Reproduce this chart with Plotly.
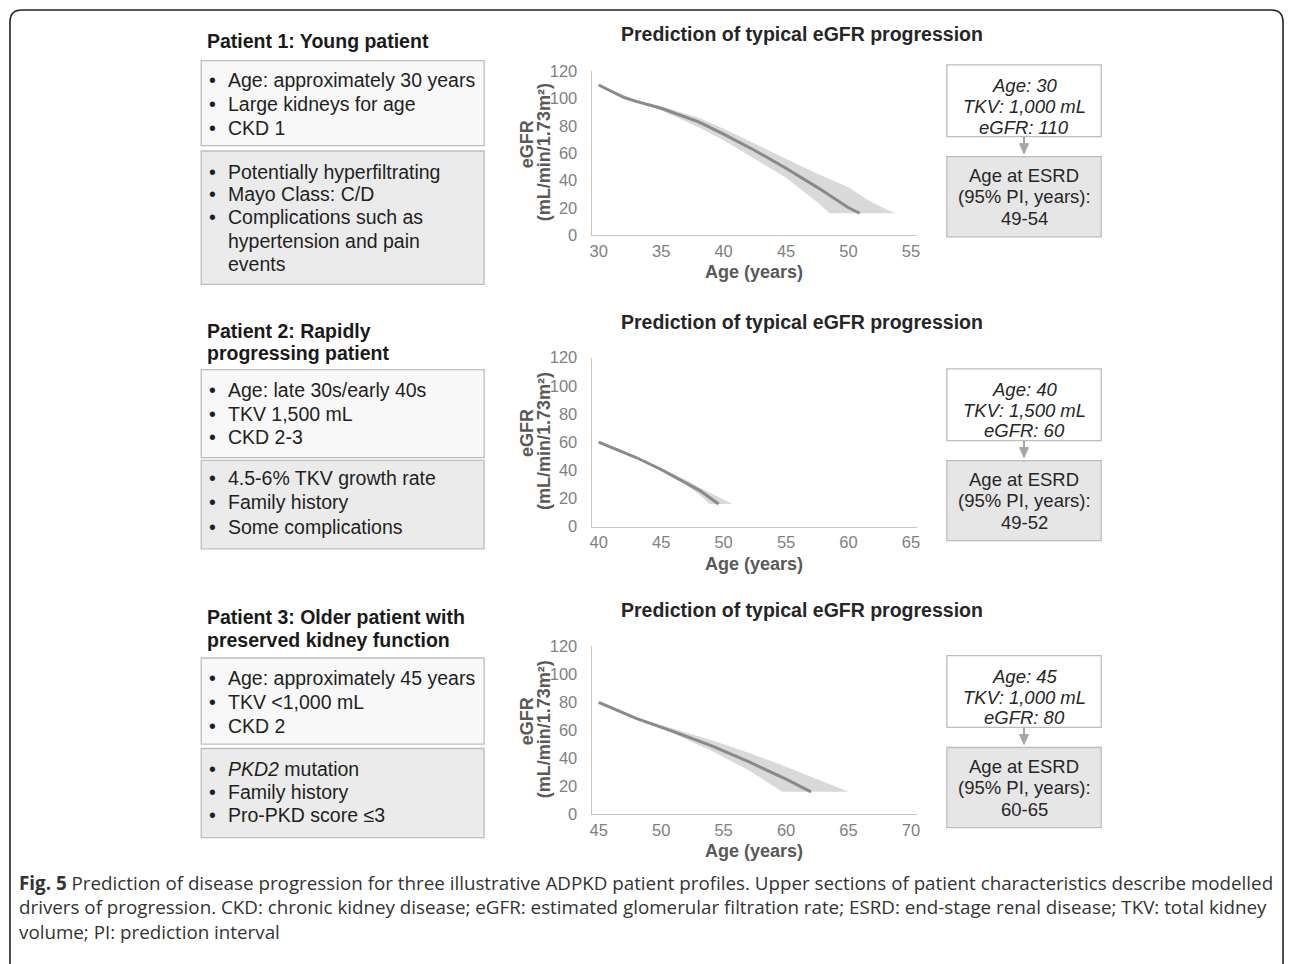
import plotly.graph_objects as go

W, H = 1292, 964

# ---------------- data ----------------
chart_title = "Prediction of typical eGFR progression"
y_ticks = [0, 20, 40, 60, 80, 100, 120]
x_ticks_1 = [30, 35, 40, 45, 50, 55]
x_ticks_2 = [40, 45, 50, 55, 60, 65]
x_ticks_3 = [45, 50, 55, 60, 65, 70]

# Patient 1
p1_age = [30, 32, 33, 35, 38, 40, 42.5, 45, 47.5, 50, 50.9]
p1_egfr = [110, 101, 98, 93, 83, 74, 62, 49, 35, 20, 16]
p1_upper_age = [30, 33, 35, 38, 40, 42.5, 45, 47.5, 50, 51.5, 53, 53.8]
p1_upper = [110, 99, 94.5, 86, 78, 67, 55.5, 45, 35, 26, 19, 16]
p1_lower_age = [30, 33, 35, 38, 40, 42.5, 45, 47.5, 48.5]
p1_lower = [110, 97.5, 91.5, 79, 69.5, 56, 42, 24, 16]

# Patient 2
p2_age = [40, 43, 45, 47, 48.1, 49.6]
p2_egfr = [60, 49, 40.5, 31, 25.5, 16]
p2_upper_age = [40, 43, 45, 47, 48, 49.5, 50.7]
p2_upper = [60, 49.5, 41.5, 33, 28, 21.5, 16]
p2_lower_age = [40, 43, 45, 47, 48, 48.9]
p2_lower = [60, 48.5, 39.5, 29.5, 23, 16]

# Patient 3
p3_age = [45, 48, 51, 54, 57, 60, 62]
p3_egfr = [80, 68.5, 59, 49, 37.5, 25, 16]
p3_upper_age = [45, 48, 51, 54, 57, 60, 62.5, 65]
p3_upper = [80, 69, 61, 53, 44, 34, 25, 16]
p3_lower_age = [45, 48, 51, 54, 57, 59.7]
p3_lower = [80, 68, 57.5, 45.5, 31.5, 16]

patient_titles = [
    ["Patient 1: Young patient"],
    ["Patient 2: Rapidly", "progressing patient"],
    ["Patient 3: Older patient with", "preserved kidney function"],
]
patient_box1 = [
    [["Age: approximately 30 years"], ["Large kidneys for age"], ["CKD 1"]],
    [["Age: late 30s/early 40s"], ["TKV 1,500 mL"], ["CKD 2-3"]],
    [["Age: approximately 45 years"], ["TKV <1,000 mL"], ["CKD 2"]],
]
patient_box2 = [
    [["Potentially hyperfiltrating"], ["Mayo Class: C/D"],
     ["Complications such as", "hypertension and pain", "events"]],
    [["4.5-6% TKV growth rate"], ["Family history"], ["Some complications"]],
    [["<i>PKD2</i> mutation"], ["Family history"], ["Pro-PKD score \u22643"]],
]
input_lines = [
    ["Age: 30", "TKV: 1,000 mL", "eGFR: 110"],
    ["Age: 40", "TKV: 1,500 mL", "eGFR: 60"],
    ["Age: 45", "TKV: 1,000 mL", "eGFR: 80"],
]
esrd_label = ["Age at ESRD", "(95% PI, years):"]
esrd_range = ["49-54", "49-52", "60-65"]

caption_lines = [
    "<b>Fig. 5</b> Prediction of disease progression for three illustrative ADPKD patient profiles. "
    "Upper sections of patient characteristics describe modelled",
    "drivers of progression. CKD: chronic kidney disease; eGFR: estimated glomerular filtration rate; "
    "ESRD: end-stage renal disease; TKV: total kidney",
    "volume; PI: prediction interval",
]

# ---------------- helpers ----------------
# the photographed page is slightly squeezed vertically; positions below are
# screen pixels and are mapped back to page pixels here
Y_OFF, Y_SCALE = 9.2, 0.98


def fx(p):
    return p / W


def fy(p):
    return 1 - ((p - Y_OFF) / Y_SCALE) / H


ARIAL = "Liberation Sans, Arial, sans-serif"
shapes = []
annotations = []


def ann(x, y, text, size, color="#1f1f1f", xanchor="left", angle=0, family=ARIAL, align="left"):
    annotations.append(dict(
        x=fx(x), y=fy(y), xref="paper", yref="paper", text=text, showarrow=False,
        xanchor=xanchor, yanchor="middle", textangle=angle, align=align,
        font=dict(size=size, color=color, family=family)))


def rect(x0, y0, x1, y1, fill, line="#bdbdbd", width=1.3):
    shapes.append(dict(type="rect", xref="paper", yref="paper",
                       x0=fx(x0), x1=fx(x1), y0=fy(y1), y1=fy(y0),
                       fillcolor=fill, line=dict(color=line, width=width), layer="below"))


def path(points, close=True, fill=None, line="#999999", width=1.5):
    d = "M " + " L ".join(f"{fx(x):.5f},{fy(y):.5f}" for x, y in points)
    if close:
        d += " Z"
    shapes.append(dict(type="path", xref="paper", yref="paper", path=d,
                       fillcolor=fill if fill else "rgba(0,0,0,0)",
                       line=dict(color=line, width=width)))


fig = go.Figure()

series = [
    (p1_age, p1_egfr, p1_upper_age, p1_upper, p1_lower_age, p1_lower, x_ticks_1),
    (p2_age, p2_egfr, p2_upper_age, p2_upper, p2_lower_age, p2_lower, x_ticks_2),
    (p3_age, p3_egfr, p3_upper_age, p3_upper, p3_lower_age, p3_lower, x_ticks_3),
]

# plot geometry (screen pixels)
x_left, x_right = 592, 919
x_first_px, x_last_px = 599, 912.5
y_zero = [235, 526, 813.3]
y_top = [71.5, 357.3, 645.7]
title_y = [34, 322, 609]
right_off = [0, 303.5, 590]

layout_axes = {}
for i, (age, eg, ua, uv, la, lv, xt) in enumerate(series):
    n = i + 1
    xa = "x" if n == 1 else f"x{n}"
    ya = "y" if n == 1 else f"y{n}"
    poly_x = list(ua) + list(reversed(la))
    poly_y = list(uv) + list(reversed(lv))
    fig.add_trace(go.Scatter(x=poly_x, y=poly_y, fill="toself", fillcolor="#d9d9d9",
                             line=dict(width=0), mode="lines", hoverinfo="skip",
                             showlegend=False, xaxis=xa, yaxis=ya))
    fig.add_trace(go.Scatter(x=age, y=eg, mode="lines", line=dict(color="#8a8a8a", width=3),
                             showlegend=False, xaxis=xa, yaxis=ya))
    ppu = (x_last_px - x_first_px) / (xt[-1] - xt[0])
    xr = [xt[0] - (x_first_px - x_left) / ppu, xt[-1] + (x_right - x_last_px) / ppu]
    axis_common = dict(showline=True, linecolor="#c4c4c4", linewidth=1.2, showgrid=False,
                       zeroline=False, ticks="")
    layout_axes["xaxis" if n == 1 else f"xaxis{n}"] = dict(
        axis_common, domain=[fx(x_left), fx(x_right)], range=xr, tickvals=xt,
        anchor=ya, tickfont=dict(size=16.5, color="#808080", family=ARIAL),
        ticklabelstandoff=1)
    layout_axes["yaxis" if n == 1 else f"yaxis{n}"] = dict(
        axis_common, domain=[fy(y_zero[i]), fy(y_top[i])], range=[0, 120], tickvals=y_ticks,
        anchor=xa, tickfont=dict(size=16.5, color="#808080", family=ARIAL),
        ticklabelstandoff=10)

    # chart title and axis titles
    ann(803, title_y[i], f"<b>{chart_title}</b>", 19.5, color="#262626", xanchor="center")
    ann(755, y_zero[i] + 37, "<b>Age (years)</b>", 18, color="#595959", xanchor="center")
    ymid = (y_zero[i] + y_top[i]) / 2
    ann(527, ymid - 9, "<b>eGFR</b>", 18, color="#595959", xanchor="center", angle=-90)
    ann(544, ymid - 1, "<b>(mL/min/1.73m\u00b2)</b>", 18, color="#595959", xanchor="center", angle=-90)

    # right-hand boxes
    o = right_off[i]
    b1t, b1b = 65 + o, 136.7 + o
    b2t, b2b = 156.7 + o, 236.7 + o
    rect(948.5, b1t, 1103.5, b1b, "#ffffff")
    rect(948.5, b2t, 1103.5, b2b, "#e6e6e6")
    c1 = (b1t + b1b) / 2 + 5.5
    for k, t in enumerate(input_lines[i]):
        ann(1026, c1 + (k - 1) * 20.7, f"<i>{t}</i>", 18.5, color="#262626", xanchor="center")
    c2 = (b2t + b2b) / 2
    for k, t in enumerate(esrd_label + [esrd_range[i]]):
        ann(1026, c2 + (k - 1) * 21.5, t, 18.5, color="#262626", xanchor="center")
    shapes.append(dict(type="line", xref="paper", yref="paper", x0=fx(1026), x1=fx(1026),
                       y0=fy(b1b), y1=fy(b1b + 8), line=dict(color="#a6a6a6", width=2)))
    path([(1021.5, b1b + 7), (1030.5, b1b + 7), (1026, b1b + 17)], fill="#a6a6a6",
         line="#a6a6a6", width=1)

# left-hand patient boxes
left_geo = [
    dict(title=[40.7], b1=(60.7, 145.7), l1=[80, 104, 128.3], b2=(151, 284.3),
         l2=[171.7, 194, 217.3, 240.7, 264]),
    dict(title=[330.7, 352.7], b1=(369.3, 457.3), l1=[390, 413.3, 436.7], b2=(460, 548.3),
         l2=[478, 501.7, 526]),
    dict(title=[616, 639.3], b1=(657.3, 743.3), l1=[677.3, 701.7, 725], b2=(747.7, 836.7),
         l2=[767.7, 791, 814.3]),
]
for i, g in enumerate(left_geo):
    for k, t in enumerate(patient_titles[i]):
        ann(204, g["title"][k], f"<b>{t}</b>", 19.5, color="#1a1a1a")
    rect(200, g["b1"][0], 484, g["b1"][1], "#f8f8f8")
    rect(200, g["b2"][0], 484, g["b2"][1], "#ebebeb")
    for items, ys in ((patient_box1[i], g["l1"]), (patient_box2[i], g["l2"])):
        idx = 0
        for item in items:
            ann(211, ys[idx], "\u2022", 19.5, xanchor="center")
            for line in item:
                ann(225, ys[idx], line, 19.5)
                idx += 1

# caption (one text block)
ann(15, 906, "<br>".join(caption_lines), 18.8, color="#333333",
    family="Open Sans, sans-serif", align="left")

# outer rounded frame
r = 12
L, T, R, B = 8, 10.2, 1286, 975
frame = (f"M {fx(L):.5f},{fy(T + r):.5f} Q {fx(L):.5f},{fy(T):.5f} {fx(L + r):.5f},{fy(T):.5f} "
         f"L {fx(R - r):.5f},{fy(T):.5f} Q {fx(R):.5f},{fy(T):.5f} {fx(R):.5f},{fy(T + r):.5f} "
         f"L {fx(R):.5f},{fy(B - r):.5f} Q {fx(R):.5f},{fy(B):.5f} {fx(R - r):.5f},{fy(B):.5f} "
         f"L {fx(L + r):.5f},{fy(B):.5f} Q {fx(L):.5f},{fy(B):.5f} {fx(L):.5f},{fy(B - r):.5f} Z")
shapes.append(dict(type="path", xref="paper", yref="paper", path=frame,
                   line=dict(color="#222222", width=1.6), fillcolor="rgba(0,0,0,0)"))

fig.update_layout(
    width=W, height=H, autosize=False,
    margin=dict(l=0, r=0, t=0, b=0),
    paper_bgcolor="white", plot_bgcolor="rgba(0,0,0,0)",
    shapes=shapes, annotations=annotations, showlegend=False,
    **layout_axes,
)

fig.write_html(
    "out.html",
    config={"displayModeBar": False},
    post_script="document.body.style.margin='0';document.body.style.padding='0';"
                "document.documentElement.style.overflow='hidden';"
                "document.body.style.overflow='hidden';",
)
